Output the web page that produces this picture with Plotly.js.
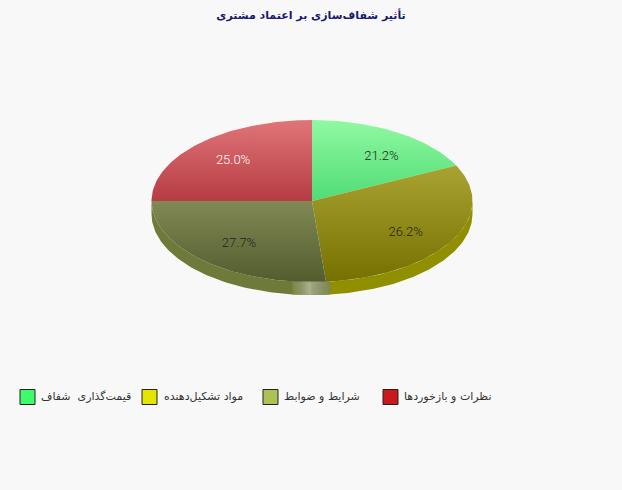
<!DOCTYPE html>
<html><head><meta charset="utf-8">
<script src="https://cdn.plot.ly/plotly-3.0.1.min.js"></script>
<style>html,body{margin:0;padding:0;background:#f8f8f8}</style></head>
<body><div id="chart" style="width:622px;height:490px"></div>
<script>
const chartTitle = "تأثیر شفاف‌سازی بر اعتماد مشتری";
const categories = ["قیمت‌گذاری  شفاف", "مواد تشکیل‌دهنده", "شرایط و ضوابط", "نظرات و بازخوردها"];
const percentValues = [21.2, 26.2, 27.7, 25.0];
// Slice edges as they appear in the picture, degrees clockwise from 12 o'clock.
const drawnEdges = [0, 64, 175, 270, 360];
const swatchColors = ["#3dfb6a", "#e4e400", "#aec253", "#c81a1a"];
const faceTop = ["#90f9a1", "#aaa332", "#818a55", "#e07579"];
const faceBottom = ["#50dc76", "#757000", "#525c2e", "#b53c42"];
const wallColors = ["#55dd77", "#8f8f00", "#6e7a3a", "#b53c42"];
const labelColors = ["#222222", "#222222", "#222222", "#ffffff"];
const legendSwatchX = [27.5, 149.5, 270.5, 390.5];
const legendTextX = [42, 165, 285, 405];

const cx = 312, cy = 201, rx = 160.5, ry = 81, depth = 13, labelR = 0.7, legendY = 397;
const pt = (deg, dy) => [cx + rx * Math.sin(deg * Math.PI / 180), cy - ry * Math.cos(deg * Math.PI / 180) + dy];
function arc(a, b, dy) { const o = []; const n = Math.max(2, Math.ceil(Math.abs(b - a))); for (let i = 0; i <= n; i++) o.push(pt(a + (b - a) * i / n, dy)); return o; }
const common = {mode: "lines", line: {width: 0}, fill: "toself", hoverinfo: "skip", showlegend: false};
function poly(points, extra) { return Object.assign({x: points.map(p => p[0]), y: points.map(p => p[1])}, common, extra); }
const traces = [];
function wall(a, b, extra) {
  const A = Math.max(a, 90), B = Math.min(b, 270);
  if (A >= B) return;
  traces.push(poly(arc(A, B, 0).concat(arc(B, A, depth)), extra));
}
categories.forEach((c, i) => wall(drawnEdges[i], drawnEdges[i + 1], {fillcolor: wallColors[i]}));
wall(173.5, 187, {fillgradient: {type: "horizontal", colorscale: [[0, "#7d8640"], [0.25, "#8f9668"], [0.45, "#aab090"], [0.55, "#9aa07a"], [0.75, "#8c9468"], [1, "#7d8650"]]}});
categories.forEach((c, i) => {
  const pts = [[cx, cy]].concat(arc(drawnEdges[i], drawnEdges[i + 1], 0)); pts.push([cx, cy]);
  traces.push(poly(pts, {fillgradient: {type: "vertical", colorscale: [[0, faceBottom[i]], [1, faceTop[i]]]}}));
});
let cum = 0; const lx = [], ly = [], lt = [];
percentValues.forEach(v => {
  const deg = (cum + v / 2) * 3.6; cum += v;
  lx.push(cx + labelR * rx * Math.sin(deg * Math.PI / 180));
  ly.push(cy - labelR * ry * Math.cos(deg * Math.PI / 180));
  lt.push(v.toFixed(1) + "%");
});
traces.push({x: lx, y: ly, text: lt, mode: "text", textposition: "middle center", hoverinfo: "skip", showlegend: false,
  textfont: {family: "Roboto, sans-serif", size: 13, weight: 300, color: labelColors}});
traces.push({x: legendSwatchX, y: categories.map(() => legendY), mode: "markers", hoverinfo: "skip", showlegend: false,
  marker: {symbol: "square", size: 15, color: swatchColors, line: {color: "#222222", width: 1}}});

const layout = {
  width: 622, height: 490, margin: {l: 0, r: 0, t: 0, b: 0},
  paper_bgcolor: "#f8f8f8", plot_bgcolor: "#f8f8f8",
  title: {text: chartTitle, x: 0.5, xanchor: "center", y: 0.97, yanchor: "middle", font: {family: "DejaVu Sans", size: 11, color: "#191970", weight: 700}},
  xaxis: {range: [0, 622], visible: false, fixedrange: true},
  yaxis: {range: [490, 0], visible: false, fixedrange: true},
  showlegend: false,
  annotations: categories.map((c, i) => ({x: legendTextX[i], y: legendY - 1, text: c, showarrow: false, xanchor: "left", yanchor: "middle", xshift: -3,
    font: {family: "DejaVu Sans", size: 11, color: "#333333"}}))
};
Plotly.newPlot("chart", traces, layout, {displayModeBar: false, responsive: false});
</script></body></html>
